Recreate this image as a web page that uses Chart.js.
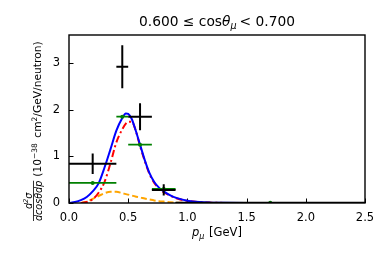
<!DOCTYPE html>
<html>
<head>
<meta charset="utf-8">
<script src="https://cdn.jsdelivr.net/npm/chart.js@4/dist/chart.umd.min.js"></script>
<style>
html,body{margin:0;padding:0;background:#fff;}
#c{display:block;}
</style>
</head>
<body>
<canvas id="c" width="390" height="260"></canvas>
<script>
// ---- data ----
const binLo   = [0.0, 0.4, 0.5, 0.7, 0.9];
const binHi   = [0.4, 0.5, 0.7, 0.9, 2.5];
const dataVal = [0.84, 2.92, 1.85, 0.28, 0.005];
const dataErr = [0.22, 0.46, 0.29, 0.12, 0.005];
const mcVal   = [0.43, 1.85, 1.25, 0.30, 0.004];

const curveP    = [0.0, 0.05, 0.10, 0.15, 0.20, 0.25, 0.30, 0.35, 0.40, 0.45, 0.48, 0.50, 0.53, 0.56, 0.60, 0.64, 0.68, 0.72, 0.76, 0.80, 0.86, 0.92, 1.00, 1.10, 1.20, 1.30, 1.50, 2.00, 2.50];
const totalCurve= [0.0, 0.02, 0.06, 0.13, 0.25, 0.42, 0.76, 1.15, 1.55, 1.82, 1.92, 1.91, 1.80, 1.58, 1.25, 0.92, 0.64, 0.45, 0.33, 0.25, 0.16, 0.10, 0.05, 0.02, 0.008, 0.003, 0.0, 0.0, 0.0];
const qeCurve   = [null, null, 0.0, 0.02, 0.08, 0.22, 0.45, 0.85, 1.30, 1.58, 1.70, 1.74, 1.74, 1.58, 1.22, 0.90, 0.62, 0.43, 0.31, 0.23, 0.15, 0.09, 0.045, 0.018, 0.007, 0.002, 0.0, 0.0, 0.0];
const twoPCurve = [null, null, 0.0, 0.03, 0.09, 0.15, 0.21, 0.24, 0.24, 0.21, 0.19, 0.18, 0.16, 0.14, 0.12, 0.095, 0.075, 0.055, 0.04, 0.03, 0.015, 0.007, 0.0, null, null, null, null, null, null];

const xTicks = [0, 0.5, 1.0, 1.5, 2.0, 2.5];
const yTicks = [0, 1, 2, 3];

// ---- build datasets ----
function hSegs(vals){
  const out=[];
  for(let i=0;i<vals.length;i++){
    out.push({x:binLo[i],y:vals[i]},{x:binHi[i],y:vals[i]},{x:binHi[i],y:null});
  }
  return out;
}
function vSegs(vals,errs){
  const out=[];
  for(let i=0;i<vals.length;i++){
    const c=(binLo[i]+binHi[i])/2;
    out.push({x:c,y:vals[i]-errs[i]},{x:c,y:vals[i]+errs[i]},{x:c,y:null});
  }
  return out;
}
function centers(vals){
  return vals.map((v,i)=>({x:(binLo[i]+binHi[i])/2,y:v}));
}
function curve(vals){
  return curveP.map((p,i)=>({x:p,y:vals[i]}));
}

const lineBase={showLine:true,pointRadius:0,spanGaps:false,fill:false};

const datasets=[
  Object.assign({},lineBase,{label:'data h',data:hSegs(dataVal),borderColor:'#000',borderWidth:2,order:0}),
  Object.assign({},lineBase,{label:'data v',data:vSegs(dataVal,dataErr),borderColor:'#000',borderWidth:2,order:0}),
  Object.assign({},lineBase,{label:'total',data:curve(totalCurve),borderColor:'#0000ff',borderWidth:2,cubicInterpolationMode:'monotone',order:2}),
  Object.assign({},lineBase,{label:'qe',data:curve(qeCurve),borderColor:'#ff0000',borderWidth:2,borderDash:[7,3,2,3],cubicInterpolationMode:'monotone',order:3}),
  Object.assign({},lineBase,{label:'2p2h',data:curve(twoPCurve),borderColor:'#ffa500',borderWidth:2,borderDash:[6,3],cubicInterpolationMode:'monotone',order:4}),
  Object.assign({},lineBase,{label:'mc h',data:hSegs(mcVal),borderColor:'#008000',borderWidth:1.8,order:1}),
  {label:'mc pts',data:centers(mcVal),showLine:false,pointRadius:2,pointBackgroundColor:'#008000',pointBorderWidth:0,order:1}
];

const FONT='"DejaVu Sans"';

function drawPieces(ctx,pieces,x,y){
  let cx=x;
  for(const p of pieces){
    ctx.font=(p.style||'')+' '+p.size+'px '+FONT;
    ctx.fillText(p.t,cx,y+(p.dy||0));
    cx+=ctx.measureText(p.t).width+(p.after||0);
  }
  return cx;
}
function measurePieces(ctx,pieces){
  let w=0;
  for(const p of pieces){
    ctx.font=(p.style||'')+' '+p.size+'px '+FONT;
    w+=ctx.measureText(p.t).width+(p.after||0);
  }
  return w;
}

const decor={
  id:'decor',
  beforeDatasetsDraw(chart){
    const {ctx,chartArea:a,scales}=chart;
    ctx.save();
    ctx.strokeStyle='#000';
    ctx.lineWidth=1;
    ctx.beginPath();
    for(const v of xTicks){
      const px=Math.round(scales.x.getPixelForValue(v))+0.5;
      ctx.moveTo(px,a.bottom);ctx.lineTo(px,a.bottom-4.5);
    }
    for(const v of yTicks){
      const py=Math.round(scales.y.getPixelForValue(v))+0.5;
      ctx.moveTo(a.left,py);ctx.lineTo(a.left+4.5,py);
    }
    ctx.stroke();
    ctx.restore();
  },
  afterDatasetsDraw(chart){
    const {ctx,chartArea:a}=chart;
    ctx.save();
    ctx.strokeStyle='#000';
    ctx.lineWidth=1.4;
    ctx.strokeRect(a.left,a.top,a.right-a.left,a.bottom-a.top);
    ctx.restore();
  },
  afterDraw(chart){
    const {ctx,chartArea:a}=chart;
    ctx.save();
    ctx.fillStyle='#000';
    ctx.textBaseline='alphabetic';
    ctx.textAlign='left';
    // title
    const tp=[
      {t:'0.600 \u2264 cos',size:13.8},
      {t:'\u03b8',size:13.8,style:'italic'},
      {t:'\u03bc',size:9.6,style:'italic',dy:3,after:3},
      {t:'< 0.700',size:13.8}
    ];
    const cx=(a.left+a.right)/2;
    drawPieces(ctx,tp,cx-measurePieces(ctx,tp)/2,26);
    // x label
    const xp=[
      {t:'p',size:11.5,style:'italic'},
      {t:'\u03bc',size:8,style:'italic',dy:2.5,after:1},
      {t:' [GeV]',size:11.5}
    ];
    drawPieces(ctx,xp,cx-measurePieces(ctx,xp)/2,236);
    // fraction (rotated)
    ctx.save();
    ctx.translate(0,221);
    ctx.rotate(-Math.PI/2);
    const den=[{t:'dcos\u03b8dp',size:9.6,style:'italic'}];
    const num=[{t:'d',size:9.6,style:'italic'},{t:'2',size:6.7,style:'italic',dy:-3.7},{t:'\u03c3',size:9.6,style:'italic'}];
    const dw=measurePieces(ctx,den), nw=measurePieces(ctx,num);
    const fw=Math.max(dw,nw);
    drawPieces(ctx,den,(fw-dw)/2,41.5);
    drawPieces(ctx,num,(fw-nw)/2,31.5);
    ctx.fillRect(0,33.2,fw,0.8);
    ctx.restore();
    // main y label text, placed after the fraction
    ctx.save();
    ctx.translate(41,221-fw-4);
    ctx.rotate(-Math.PI/2);
    drawPieces(ctx,[
      {t:'(10',size:10.7},
      {t:'\u221238',size:7.5,dy:-4.4,after:2},
      {t:' cm',size:10.7},
      {t:'2',size:7.5,dy:-4.4},
      {t:'/GeV/neutron)',size:10.7}
    ],0,0);
    ctx.restore();
    ctx.restore();
  }
};

new Chart(document.getElementById('c'),{
  type:'scatter',
  data:{datasets},
  options:{
    responsive:false,
    devicePixelRatio:1,
    animation:false,
    layout:{padding:{top:35,right:25,left:0,bottom:0}},
    plugins:{legend:{display:false},tooltip:{enabled:false},title:{display:false}},
    scales:{
      x:{
        type:'linear',min:0,max:2.5,
        afterBuildTicks:s=>{s.ticks=xTicks.map(v=>({value:v}));},
        afterFit:s=>{s.height=57;},
        grid:{display:false,drawTicks:false},
        border:{display:false},
        ticks:{padding:8,color:'#000',font:{family:'DejaVu Sans',size:11.5},maxRotation:0,callback:v=>Number(v).toFixed(1)}
      },
      y:{
        type:'linear',min:0,max:3.6,
        afterBuildTicks:s=>{s.ticks=yTicks.map(v=>({value:v}));},
        afterFit:s=>{s.width=69;},
        grid:{display:false,drawTicks:false},
        border:{display:false},
        ticks:{padding:9,color:'#000',font:{family:'DejaVu Sans',size:11.5},callback:v=>String(v)}
      }
    }
  },
  plugins:[decor]
});
</script>
</body>
</html>
